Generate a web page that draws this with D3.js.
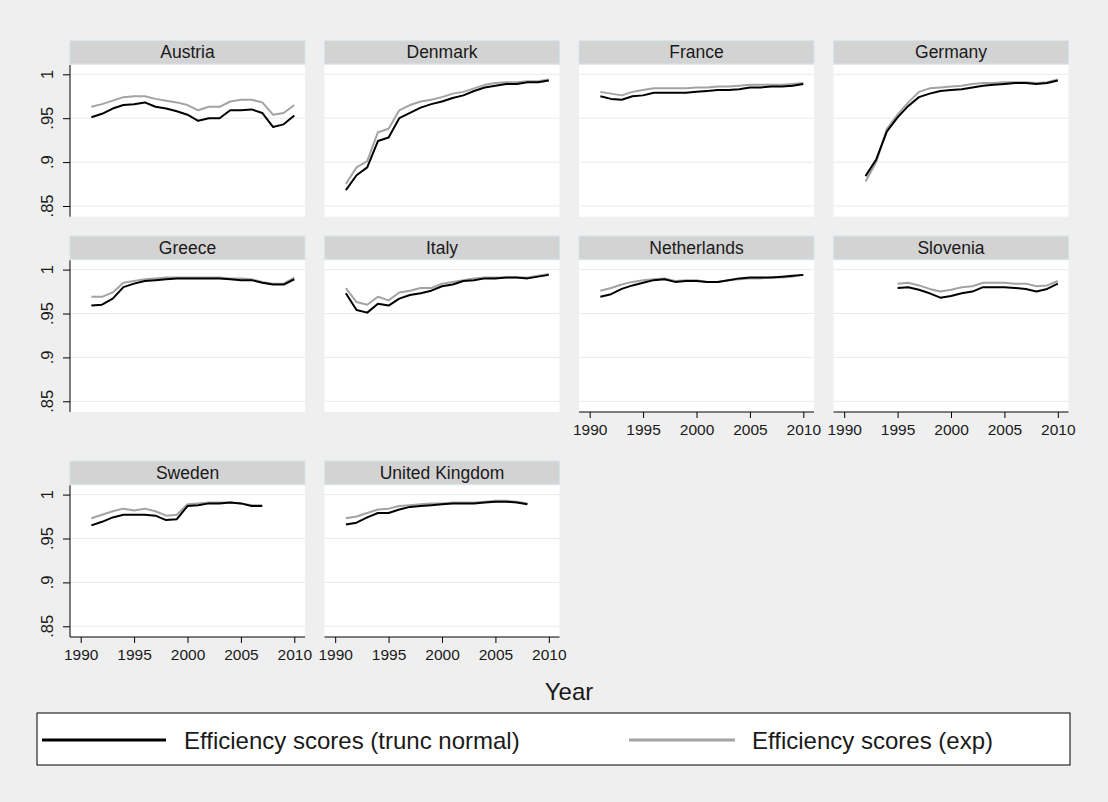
<!DOCTYPE html>
<html>
<head>
<meta charset="utf-8">
<script src="https://cdn.jsdelivr.net/npm/d3@7"></script>
<style>
  body { margin: 0; background: #efefef; }
  svg { display: block; font-family: "Liberation Sans", Arial, Helvetica, sans-serif; }
</style>
</head>
<body>
<svg id="chart" width="1108" height="802"></svg>
<script>
// data
var countries = ["Austria", "Denmark", "France", "Germany", "Greece", "Italy",
                 "Netherlands", "Slovenia", "Sweden", "United Kingdom"];
var firstYear = [1991, 1991, 1991, 1992, 1991, 1991, 1991, 1995, 1991, 1991];

var austriaTrunc = [.951,.955,.961,.965,.966,.968,.963,.961,.958,.954,.947,.950,.950,.959,.959,.960,.956,.940,.943,.953];
var austriaExp   = [.963,.966,.970,.974,.975,.975,.972,.970,.968,.965,.959,.963,.963,.969,.971,.971,.968,.954,.956,.965];
var denmarkTrunc = [.868,.885,.894,.924,.928,.950,.956,.962,.966,.969,.973,.976,.981,.985,.987,.989,.989,.991,.991,.993];
var denmarkExp   = [.875,.894,.901,.934,.938,.959,.965,.969,.971,.974,.978,.980,.984,.988,.990,.991,.991,.992,.992,.994];
var franceTrunc  = [.975,.972,.971,.975,.976,.979,.979,.979,.979,.980,.981,.982,.982,.983,.985,.985,.986,.986,.987,.989];
var franceExp    = [.980,.978,.976,.980,.982,.984,.984,.984,.984,.985,.985,.986,.986,.987,.988,.988,.988,.988,.989,.990];
var germanyTrunc = [.884,.903,.935,.951,.964,.974,.978,.981,.982,.983,.985,.987,.988,.989,.990,.990,.989,.990,.993];
var germanyExp   = [.878,.900,.938,.954,.968,.980,.984,.985,.986,.987,.989,.990,.990,.991,.991,.991,.990,.991,.994];
var greeceTrunc  = [.959,.960,.967,.980,.984,.987,.988,.989,.990,.990,.990,.990,.990,.989,.988,.988,.985,.983,.983,.989];
var greeceExp    = [.969,.969,.974,.985,.987,.989,.990,.991,.991,.991,.991,.991,.991,.990,.990,.989,.986,.984,.984,.991];
var italyTrunc   = [.973,.954,.951,.961,.959,.967,.971,.973,.976,.981,.983,.987,.988,.990,.990,.991,.991,.990,.992,.994];
var italyExp     = [.979,.963,.960,.969,.965,.974,.976,.979,.979,.984,.986,.988,.990,.991,.991,.991,.991,.991,.993,.995];
var nethTrunc    = [.969,.972,.978,.982,.985,.988,.989,.986,.987,.987,.986,.986,.988,.990,.991,.991,.991,.992,.993,.994];
var nethExp      = [.976,.979,.983,.986,.988,.989,.990,.987,.988,.988,.986,.986,.988,.989,.990,.990,.991,.991,.992,.994];
var sloveniaTrunc = [.979,.980,.977,.973,.968,.970,.973,.975,.980,.980,.980,.979,.978,.975,.978,.984];
var sloveniaExp   = [.984,.985,.982,.978,.975,.977,.980,.981,.985,.985,.985,.984,.984,.981,.982,.987];
var swedenTrunc  = [.965,.969,.974,.977,.977,.977,.976,.971,.972,.987,.988,.990,.990,.991,.990,.987,.987];
var swedenExp    = [.973,.977,.981,.984,.982,.984,.981,.976,.977,.989,.990,.991,.991,.991,.990,.988,.988];
var ukTrunc      = [.966,.968,.974,.979,.979,.983,.986,.987,.988,.989,.990,.990,.990,.991,.992,.992,.991,.989];
var ukExp        = [.973,.975,.979,.983,.984,.987,.988,.989,.990,.990,.991,.991,.991,.992,.993,.993,.992,.990];

var truncSeries = [austriaTrunc, denmarkTrunc, franceTrunc, germanyTrunc, greeceTrunc,
                   italyTrunc, nethTrunc, sloveniaTrunc, swedenTrunc, ukTrunc];
var expSeries   = [austriaExp, denmarkExp, franceExp, germanyExp, greeceExp,
                   italyExp, nethExp, sloveniaExp, swedenExp, ukExp];

var yTicks = [.85, .9, .95, 1];
var yTickLabels = [".85", ".9", ".95", "1"];
var xTicks = [1990, 1995, 2000, 2005, 2010];
var legendLabels = ["Efficiency scores (trunc normal)", "Efficiency scores (exp)"];
var seriesColors = ["#000000", "#a3a3a3"];

// layout
var svg = d3.select("#chart");
var nCols = 4;
var colLeft = 70, colStep = 254.5, plotW = 235, plotH = 151.7;
var rowTop = [65, 260.3, 485.3];
var headerH = 23.3;

var x = d3.scaleLinear().domain([1989, 2011]).range([0, plotW]);
var y = d3.scaleLinear().domain([0.8378, 1.0106]).range([plotH, 0]);

var line = d3.line()
    .x(function(d) { return x(d.year); })
    .y(function(d) { return y(d.value); });

function toPoints(values, start) {
  return values.map(function(v, i) { return { year: start + i, value: v }; });
}

countries.forEach(function(name, i) {
  var col = i % nCols, row = Math.floor(i / nCols);
  var g = svg.append("g")
      .attr("transform", "translate(" + (colLeft + col * colStep) + "," + rowTop[row] + ")");

  // strip header
  g.append("rect")
      .attr("x", 0).attr("y", -headerH - 1)
      .attr("width", plotW).attr("height", headerH)
      .attr("fill", "#d3d3d3")
      .attr("stroke", "#d6e4ec").attr("stroke-width", 1);
  g.append("text")
      .attr("x", plotW / 2).attr("y", -headerH - 1 + 17.6)
      .attr("text-anchor", "middle")
      .attr("font-size", 17.5)
      .attr("fill", "#1a1a1a")
      .text(name);

  // plot region
  g.append("rect")
      .attr("width", plotW).attr("height", plotH)
      .attr("fill", "#ffffff");

  g.selectAll(".grid")
      .data(yTicks)
      .enter().append("line")
      .attr("class", "grid")
      .attr("x1", 0).attr("x2", plotW)
      .attr("y1", function(d) { return y(d); })
      .attr("y2", function(d) { return y(d); })
      .attr("stroke", "#eaeaea").attr("stroke-width", 1);

  // series: exp first so trunc normal sits on top
  [expSeries[i], truncSeries[i]].forEach(function(vals, k) {
    g.append("path")
        .datum(toPoints(vals, firstYear[i]))
        .attr("d", line)
        .attr("fill", "none")
        .attr("stroke", k === 0 ? seriesColors[1] : seriesColors[0])
        .attr("stroke-width", 2)
        .attr("stroke-linejoin", "round");
  });

  // y axis on first column
  if (col === 0) {
    var ya = g.append("g")
        .call(d3.axisLeft(y).tickValues(yTicks).tickSize(7).tickFormat(""));
    ya.select(".domain").attr("d", "M0,0V" + plotH).attr("stroke", "#000");
    ya.selectAll(".tick line").attr("stroke", "#000");
    g.selectAll(".ylab")
        .data(yTicks)
        .enter().append("text")
        .attr("class", "ylab")
        .attr("transform", function(d) { return "translate(-17," + y(d) + ") rotate(-90)"; })
        .attr("text-anchor", "middle")
        .attr("font-size", 16.5)
        .attr("fill", "#1a1a1a")
        .text(function(d, j) { return yTickLabels[j]; });
  }

  // x axis on panels with nothing below them
  if (i + nCols >= countries.length) {
    var xa = g.append("g")
        .attr("transform", "translate(0," + plotH + ")")
        .call(d3.axisBottom(x).tickValues(xTicks).tickSize(6).tickSizeOuter(0).tickFormat(d3.format("d")));
    xa.select(".domain").attr("d", "M0,0H" + plotW).attr("stroke", "#000");
    xa.selectAll(".tick line").attr("stroke", "#000");
    xa.selectAll(".tick text")
        .attr("y", 22.7).attr("dy", 0)
        .attr("font-size", 15.5)
        .attr("font-family", "Liberation Sans, Arial, sans-serif")
        .attr("fill", "#1a1a1a");
  }
});

// x title
svg.append("text")
    .attr("x", 569).attr("y", 700)
    .attr("text-anchor", "middle")
    .attr("font-size", 24)
    .attr("fill", "#1a1a1a")
    .text("Year");

// legend
var legend = svg.append("g");
legend.append("rect")
    .attr("x", 37).attr("y", 713)
    .attr("width", 1033).attr("height", 52)
    .attr("fill", "#fff").attr("stroke", "#000").attr("stroke-width", 1);

var legendItems = [
  { x1: 42, x2: 166, tx: 184 },
  { x1: 629, x2: 735, tx: 752 }
];
legendItems.forEach(function(it, k) {
  legend.append("line")
      .attr("x1", it.x1).attr("x2", it.x2)
      .attr("y1", 740).attr("y2", 740)
      .attr("stroke", seriesColors[k]).attr("stroke-width", 3);
  legend.append("text")
      .attr("x", it.tx).attr("y", 748.5)
      .attr("font-size", 24)
      .attr("fill", "#1a1a1a")
      .text(legendLabels[k]);
});
</script>
</body>
</html>
